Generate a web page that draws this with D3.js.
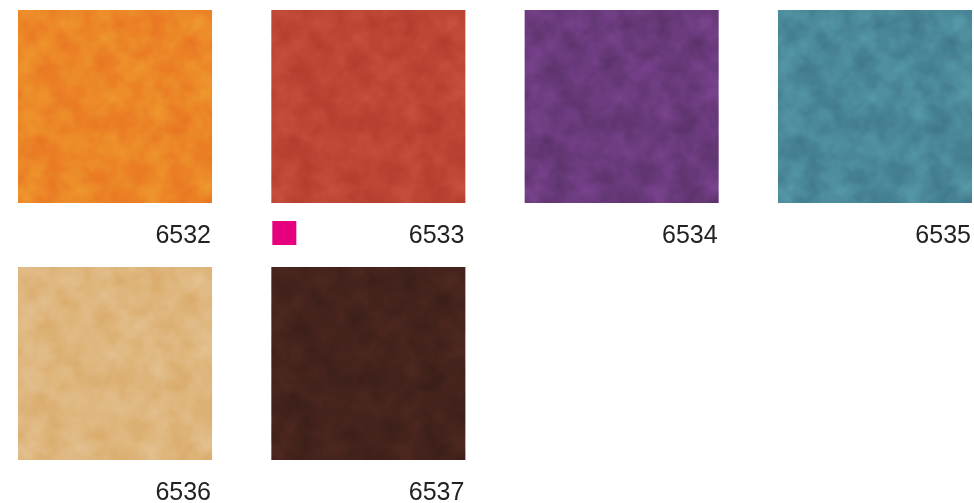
<!doctype html>
<html>
<head>
<meta charset="utf-8">
<script src="https://d3js.org/d3.v7.min.js"></script>
<style>
  html, body { margin: 0; padding: 0; background: #ffffff; }
  text { font-family: "Liberation Sans", Arial, Helvetica, sans-serif; }
</style>
</head>
<body>
<svg id="chart" width="974" height="503"></svg>
<script>
  // swatch codes and their colours, in reading order
  var codes = ["6532", "6533", "6534", "6535", "6536", "6537"];
  var colours = ["#ec8627", "#bc4634", "#6a3a7c", "#4a8899", "#dfb67d", "#44231c"];
  // codes that carry the small magenta marker
  var marked = ["6533"];

  var cols = 4;
  var svg = d3.select("#chart");

  var xscale = d3.scaleBand().domain(d3.range(cols)).range([18, 972])
    .paddingInner(0.234).paddingOuter(0);
  var yscale = d3.scaleBand().domain(d3.range(2)).range([10, 460])
    .paddingInner(0.249).paddingOuter(0);

  // faint mottled texture, laid over each swatch in overlay mode
  var defs = svg.append("defs");
  var f = defs.append("filter").attr("id", "mottle")
    .attr("color-interpolation-filters", "sRGB")
    .attr("x", 0).attr("y", 0).attr("width", 1).attr("height", 1);
  f.append("feTurbulence").attr("type", "fractalNoise")
    .attr("baseFrequency", 0.04).attr("numOctaves", 3).attr("seed", 7)
    .attr("result", "noise");
  f.append("feColorMatrix").attr("in", "noise").attr("type", "matrix")
    .attr("values", "1.6 0 0 0 -0.3  1.6 0 0 0 -0.3  1.6 0 0 0 -0.3  0 0 0 0 0.14");

  var cell = svg.selectAll(".cell")
    .data(codes)
    .enter().append("g")
    .attr("class", "cell")
    .attr("transform", function(d, i) {
      return "translate(" + xscale(i % cols) + "," + yscale(Math.floor(i / cols)) + ")";
    });

  cell.append("rect")
    .attr("width", xscale.bandwidth())
    .attr("height", yscale.bandwidth())
    .attr("fill", function(d, i) { return colours[i]; });

  cell.append("rect")
    .attr("width", xscale.bandwidth())
    .attr("height", yscale.bandwidth())
    .attr("fill", "#808080")
    .attr("filter", "url(#mottle)")
    .style("mix-blend-mode", "overlay");

  cell.append("text")
    .attr("x", xscale.bandwidth() - 1)
    .attr("y", yscale.bandwidth() + 40)
    .attr("text-anchor", "end")
    .attr("font-size", "25px")
    .attr("fill", "#222222")
    .text(function(d) { return d; });

  cell.filter(function(d) { return marked.indexOf(d) >= 0; })
    .append("rect")
    .attr("x", 1)
    .attr("y", yscale.bandwidth() + 18)
    .attr("width", 24)
    .attr("height", 24)
    .attr("fill", "#e6007e");
</script>
</body>
</html>
